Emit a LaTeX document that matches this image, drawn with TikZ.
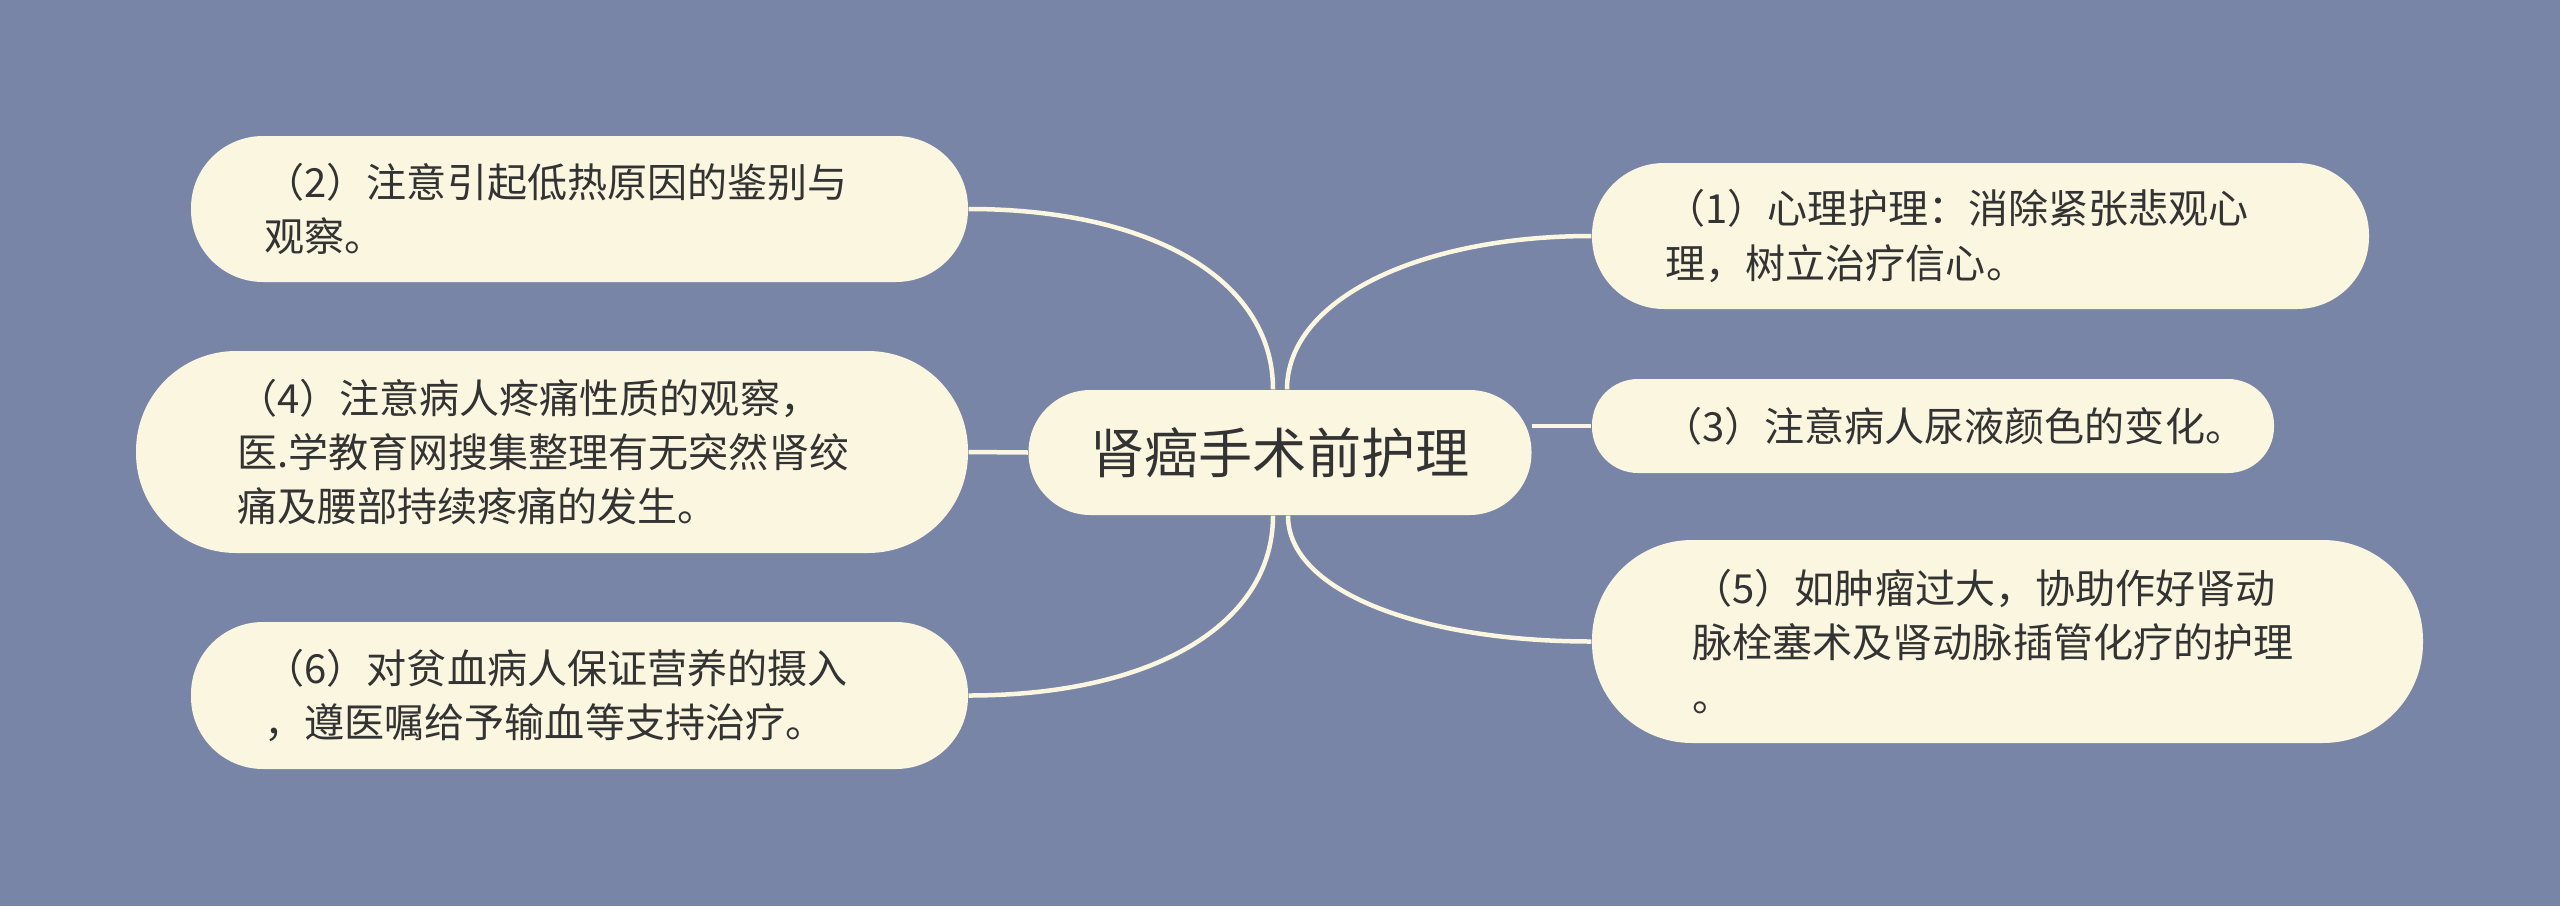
\documentclass[tikz,border=0pt]{standalone}
\usepackage{fontspec}
\setmainfont{Noto Sans CJK SC}
\definecolor{slate}{RGB}{121,133,166}
\definecolor{cream}{RGB}{250,246,224}
\definecolor{ink}{RGB}{51,51,51}

\begin{document}
\begin{tikzpicture}[
  leaf/.style={fill=cream, text=ink, inner sep=0pt, align=left,
    font=\fontsize{11.4pt}{15.4pt}\selectfont},
  hub/.style={fill=cream, text=ink, inner sep=0pt, minimum width=5.03cm,
    minimum height=1.25cm, rounded corners=0.62cm,
    font=\fontsize{15.4pt}{18pt}\selectfont},
  link/.style={draw=cream, line width=0.045cm}
]
\useasboundingbox (0,0) rectangle (25.6,-9.06);
\fill[slate] (0,0) rectangle (25.6,-9.06);

% centre
\node[hub] (core) at (12.80,-4.525) {肾癌手术前护理};

% left side
\node[leaf, text width=6.3cm, minimum width=7.77cm, minimum height=1.46cm, rounded corners=0.72cm]
  (care2) at (5.795,-2.09) {（2）注意引起低热原因的鉴别与\\观察。};
\node[leaf, text width=6.3cm, minimum width=8.32cm, minimum height=2.02cm, rounded corners=1.0cm]
  (care4) at (5.52,-4.52) {（4）注意病人疼痛性质的观察，\\医.学教育网搜集整理有无突然肾绞\\痛及腰部持续疼痛的发生。};
\node[leaf, text width=6.3cm, minimum width=7.77cm, minimum height=1.47cm, rounded corners=0.72cm]
  (care6) at (5.795,-6.955) {（6）对贫血病人保证营养的摄入\\，遵医嘱给予输血等支持治疗。};

% right side
\node[leaf, text width=6.3cm, minimum width=7.77cm, minimum height=1.46cm, rounded corners=0.72cm]
  (care1) at (19.805,-2.36) {（1）心理护理：消除紧张悲观心\\理，树立治疗信心。};
\node[leaf, text width=5.42cm, minimum width=6.82cm, minimum height=0.94cm, rounded corners=0.46cm]
  (care3) at (19.33,-4.26) {（3）注意病人尿液颜色的变化。};
\node[leaf, text width=6.3cm, minimum width=8.31cm, minimum height=2.03cm, rounded corners=1.0cm]
  (care5) at (20.075,-6.415) {（5）如肿瘤过大，协助作好肾动\\脉栓塞术及肾动脉插管化疗的护理\\。};

% links
\draw[link] ([xshift=-0.07cm]core.north) .. controls +(0,1.1) and +(1.82,0) .. (care2.east);
\draw[link] (care4.east) -- (core.west);
\draw[link] ([xshift=-0.07cm]core.south) .. controls +(0,-1.1) and +(1.82,0) .. (care6.east);
\draw[link] ([xshift=0.07cm]core.north) .. controls +(0,0.9) and +(-1.72,0) .. (care1.west);
\draw[link] (core.east |- care3.west) -- (care3.west);
\draw[link] ([xshift=0.08cm]core.south) .. controls +(0,-0.75) and +(-1.72,0) .. (care5.west);
\end{tikzpicture}
\end{document}
